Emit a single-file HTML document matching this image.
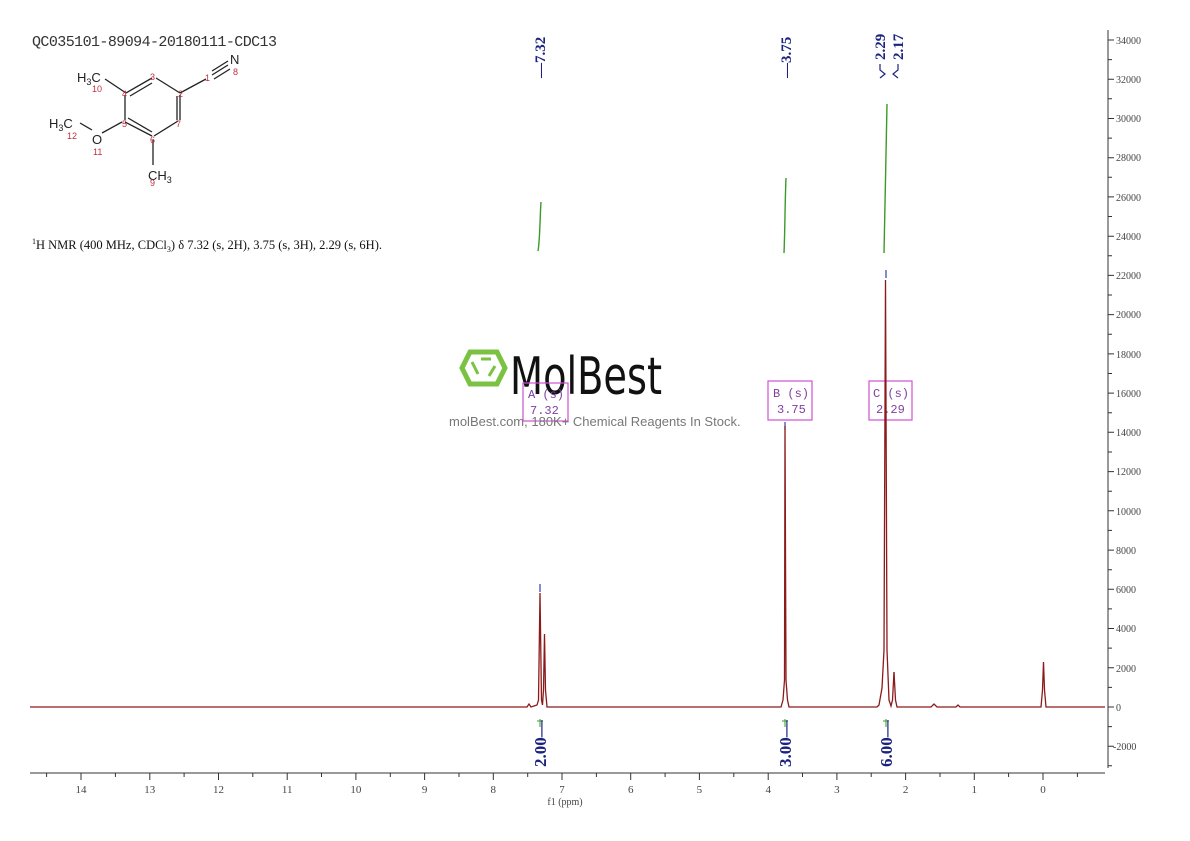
<!DOCTYPE html>
<html><head><meta charset="utf-8"><style>
html,body{margin:0;padding:0;background:#fff;}
svg{display:block;font-family:"Liberation Serif",serif;}
</style></head><body>
<svg width="1190" height="841" viewBox="0 0 1190 841" xmlns="http://www.w3.org/2000/svg">
<rect width="1190" height="841" fill="#fff"/>
<!-- title -->
<text x="32" y="46" font-size="15" fill="#333" font-family="Liberation Mono,monospace" textLength="245">QC035101-89094-20180111-CDC13</text>
<!-- structure -->
<g stroke="#222" stroke-width="1.3" fill="none">
<line x1="105" y1="79" x2="126" y2="93"/>
<line x1="126" y1="93" x2="152" y2="78"/>
<line x1="130" y1="96" x2="152" y2="83"/>
<line x1="156" y1="78" x2="180" y2="93"/>
<line x1="180" y1="93" x2="206" y2="79"/>
<line x1="180" y1="95" x2="180" y2="120"/>
<line x1="177" y1="96" x2="177" y2="120"/>
<line x1="125" y1="95" x2="125" y2="120"/>
<line x1="125" y1="122" x2="152" y2="136"/>
<line x1="128" y1="118" x2="152" y2="132"/>
<line x1="154" y1="136" x2="178" y2="121"/>
<line x1="153" y1="140" x2="153" y2="165"/>
<line x1="122" y1="122" x2="102" y2="133"/>
<line x1="80" y1="123" x2="92" y2="130"/>
<line x1="212" y1="75" x2="228" y2="65"/>
<line x1="212" y1="71" x2="228" y2="61"/>
<line x1="214" y1="79" x2="230" y2="69"/>
</g>
<g font-family="Liberation Sans,sans-serif" fill="#222" font-size="13">
<text x="77" y="82">H<tspan font-size="9" dy="3">3</tspan><tspan dy="-3">C</tspan></text>
<text x="49" y="128">H<tspan font-size="9" dy="3">3</tspan><tspan dy="-3">C</tspan></text>
<text x="92" y="144">O</text>
<text x="148" y="180">CH<tspan font-size="9" dy="3">3</tspan></text>
<text x="230" y="64">N</text>
</g>
<g font-family="Liberation Sans,sans-serif" fill="#c03040" font-size="9">
<text x="92" y="92">10</text><text x="150" y="80">3</text><text x="122" y="97">4</text>
<text x="178" y="97">2</text><text x="205" y="81">1</text><text x="233" y="75">8</text>
<text x="122" y="127">5</text><text x="176" y="127">7</text><text x="150" y="143">6</text>
<text x="67" y="139">12</text><text x="93" y="155">11</text><text x="150" y="186">9</text>
</g>
<text x="32" y="249" font-size="12.5" fill="#111"><tspan font-size="8" dy="-5">1</tspan><tspan dy="5">H NMR (400 MHz, CDCl</tspan><tspan font-size="8" dy="3">3</tspan><tspan dy="-3">) δ 7.32 (s, 2H), 3.75 (s, 3H), 2.29 (s, 6H).</tspan></text>
<!-- peak labels -->
<g font-size="15" font-weight="bold" fill="#1a237e">
<text transform="translate(545,78) rotate(-90)">—7.32</text>
<text transform="translate(791,78) rotate(-90)">—3.75</text>
<text transform="translate(885,60) rotate(-90)">2.29</text>
<text transform="translate(903,60) rotate(-90)">2.17</text>
</g>
<g stroke="#1a237e" stroke-width="1.2" fill="none">
<path d="M880 64 L880 70 L885 74 L880 78"/>
<path d="M898 64 L898 70 L893 74 L898 78"/>
</g>
<!-- integrals -->
<g stroke="#3a9a2a" stroke-width="1.4" fill="none">
<path d="M538 251 C540 240,540 215,541 202"/>
<path d="M784 253 C785 230,785 200,786 178"/>
<path d="M884 253 C885 210,886 150,887 104"/>
</g>
<!-- logo -->
<g>
<polygon points="462,368 470,352 497,352 505,368 497,384 470,384" fill="none" stroke="#7cc242" stroke-width="5"/>
<line x1="472" y1="362" x2="478" y2="374" stroke="#7cc242" stroke-width="3"/>
<line x1="481" y1="359" x2="491" y2="359" stroke="#7cc242" stroke-width="3"/>
<line x1="495" y1="366" x2="489" y2="376" stroke="#7cc242" stroke-width="3"/>
<text x="510" y="394" font-family="DejaVu Sans Condensed,Liberation Sans Narrow,sans-serif" font-size="52" fill="#111" textLength="152" lengthAdjust="spacingAndGlyphs">MolBest</text>
</g>
<!-- boxes -->
<g fill="none" stroke="#d050d0" stroke-width="1.2">
<rect x="523" y="383" width="45" height="38"/>
<rect x="768" y="381" width="44" height="39"/>
<rect x="869" y="381" width="43" height="39"/>
</g>
<g font-size="12" fill="#8040a0" font-family="Liberation Mono,monospace">
<text x="528" y="398">A (s)</text><text x="530" y="414">7.32</text>
<text x="773" y="397">B (s)</text><text x="777" y="413">3.75</text>
<text x="873" y="397">C (s)</text><text x="876" y="413">2.29</text>
</g>
<text x="449" y="426" font-family="Liberation Sans,sans-serif" font-size="13" fill="#777">molBest.com, 180K+ Chemical Reagents In Stock.</text>
<!-- peak markers -->
<g stroke="#3040b0" stroke-width="1.2">
<line x1="540" y1="584" x2="540" y2="592"/>
<line x1="785" y1="422" x2="785" y2="430"/>
<line x1="886" y1="270" x2="886" y2="278"/>
<line x1="894" y1="672" x2="894" y2="680"/>
</g>
<!-- spectrum -->
<path fill="none" stroke="#8b1a1a" stroke-width="1.3" d="M30 707 L527 707 L529 704 L531 707 L537 705 L538.5 700 L540 593 L541.5 700 L542.5 705 L543.5 690 L544.5 634 L545.5 690 L547 707 L781 707 L783 700 L784.5 680 L785 426 L786 680 L787.5 700 L789 707 L877 707 L879 705 L882 688 L884 650 L885.5 280 L887 650 L889 700 L891 706 L892.5 700 L894 672 L895.5 700 L897 707 L931 707 L934 704 L937 707 L956 707 L958 705 L960 707 L1041 707 L1042.5 690 L1043.5 662 L1044.5 690 L1046 707 L1105 707"/>
<!-- integral labels -->
<g stroke="#3a9a2a" stroke-width="1">
<line x1="540" y1="719" x2="540" y2="727"/><line x1="537" y1="721" x2="543" y2="721"/>
<line x1="785" y1="719" x2="785" y2="727"/><line x1="782" y1="721" x2="788" y2="721"/>
<line x1="886" y1="719" x2="886" y2="727"/><line x1="883" y1="721" x2="889" y2="721"/>
</g>
<g font-size="17" font-weight="bold" fill="#1a237e">
<text transform="translate(546,767) rotate(-90)">2.00—</text>
<text transform="translate(791,767) rotate(-90)">3.00—</text>
<text transform="translate(892,767) rotate(-90)">6.00—</text>
</g>
<!-- x axis -->
<g stroke="#333" stroke-width="1">
<line x1="30" y1="773" x2="1105" y2="773"/>
<g>
<line x1="81" y1="773" x2="81" y2="780"/><line x1="149.8" y1="773" x2="149.8" y2="780"/><line x1="218.5" y1="773" x2="218.5" y2="780"/><line x1="287.2" y1="773" x2="287.2" y2="780"/><line x1="355.9" y1="773" x2="355.9" y2="780"/><line x1="424.6" y1="773" x2="424.6" y2="780"/><line x1="493.3" y1="773" x2="493.3" y2="780"/><line x1="562" y1="773" x2="562" y2="780"/><line x1="630.7" y1="773" x2="630.7" y2="780"/><line x1="699.4" y1="773" x2="699.4" y2="780"/><line x1="768.2" y1="773" x2="768.2" y2="780"/><line x1="836.9" y1="773" x2="836.9" y2="780"/><line x1="905.6" y1="773" x2="905.6" y2="780"/><line x1="974.3" y1="773" x2="974.3" y2="780"/><line x1="1043" y1="773" x2="1043" y2="780"/>
<line x1="46.6" y1="773" x2="46.6" y2="777"/><line x1="115.4" y1="773" x2="115.4" y2="777"/><line x1="184.1" y1="773" x2="184.1" y2="777"/><line x1="252.8" y1="773" x2="252.8" y2="777"/><line x1="321.5" y1="773" x2="321.5" y2="777"/><line x1="390.3" y1="773" x2="390.3" y2="777"/><line x1="459" y1="773" x2="459" y2="777"/><line x1="527.7" y1="773" x2="527.7" y2="777"/><line x1="596.4" y1="773" x2="596.4" y2="777"/><line x1="665.1" y1="773" x2="665.1" y2="777"/><line x1="733.8" y1="773" x2="733.8" y2="777"/><line x1="802.5" y1="773" x2="802.5" y2="777"/><line x1="871.2" y1="773" x2="871.2" y2="777"/><line x1="940" y1="773" x2="940" y2="777"/><line x1="1008.6" y1="773" x2="1008.6" y2="777"/><line x1="1077.4" y1="773" x2="1077.4" y2="777"/>
</g>
</g>
<g font-size="11" fill="#444" text-anchor="middle">
<text x="81" y="793">14</text><text x="149.8" y="793">13</text><text x="218.5" y="793">12</text><text x="287.2" y="793">11</text><text x="355.9" y="793">10</text><text x="424.6" y="793">9</text><text x="493.3" y="793">8</text><text x="562" y="793">7</text><text x="630.7" y="793">6</text><text x="699.4" y="793">5</text><text x="768.2" y="793">4</text><text x="836.9" y="793">3</text><text x="905.6" y="793">2</text><text x="974.3" y="793">1</text><text x="1043" y="793">0</text>
<text x="565" y="805" font-size="10">f1 (ppm)</text>
</g>
<!-- y axis -->
<g stroke="#333" stroke-width="1">
<line x1="1108" y1="30" x2="1108" y2="768"/>
<path d="M1108 746.2h6M1108 707h6M1108 667.8h6M1108 628.5h6M1108 589.3h6M1108 550.1h6M1108 510.8h6M1108 471.6h6M1108 432.3h6M1108 393.1h6M1108 353.9h6M1108 314.6h6M1108 275.4h6M1108 236.2h6M1108 196.9h6M1108 157.7h6M1108 118.5h6M1108 79.2h6M1108 40h6"/>
<path d="M1108 765.8h4M1108 726.6h4M1108 687.4h4M1108 648.1h4M1108 608.9h4M1108 569.7h4M1108 530.4h4M1108 491.2h4M1108 452h4M1108 412.7h4M1108 373.5h4M1108 334.2h4M1108 295h4M1108 255.8h4M1108 216.5h4M1108 177.3h4M1108 138.1h4M1108 98.8h4M1108 59.6h4"/>
</g>
<g font-size="10" fill="#444">
<text x="1113" y="750">-2000</text><text x="1116" y="711">0</text><text x="1116" y="672">2000</text><text x="1116" y="632">4000</text><text x="1116" y="593">6000</text><text x="1116" y="554">8000</text><text x="1116" y="515">10000</text><text x="1116" y="475">12000</text><text x="1116" y="436">14000</text><text x="1116" y="397">16000</text><text x="1116" y="358">18000</text><text x="1116" y="318">20000</text><text x="1116" y="279">22000</text><text x="1116" y="240">24000</text><text x="1116" y="201">26000</text><text x="1116" y="161">28000</text><text x="1116" y="122">30000</text><text x="1116" y="83">32000</text><text x="1116" y="44">34000</text>
</g>
</svg>
</body></html>
